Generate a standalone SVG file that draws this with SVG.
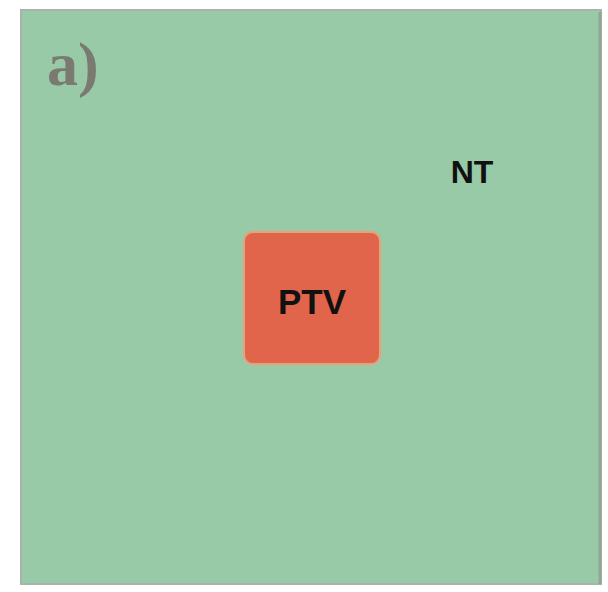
<svg xmlns="http://www.w3.org/2000/svg" width="608" height="592" viewBox="0 0 608 592">
<style>
.lbl{font-family:"Liberation Sans",Arial,sans-serif;font-weight:bold;fill:#111;}
</style>
<rect x="0" y="0" width="608" height="592" fill="#ffffff"/>
<g id="NT">
<rect x="21" y="10" width="580" height="574" fill="#98caa7" stroke="#a9b3ab" stroke-width="2"/>
<line x1="600" y1="12" x2="600" y2="584" stroke="#8fa896" stroke-width="3"/>
<text class="lbl" x="472" y="183" font-size="32" text-anchor="middle">NT</text>
</g>
<text x="47" y="85" font-family="'Liberation Serif',serif" font-weight="bold" font-size="62" fill="#7b7a70">a)</text>
<g id="PTV">
<rect x="244" y="232" width="136" height="132" rx="9" fill="#e0654a" stroke="#e9a275" stroke-width="2"/>
<text class="lbl" x="312" y="314" font-size="35" text-anchor="middle">PTV</text>
</g>
<g id="connectors"></g>
</svg>
